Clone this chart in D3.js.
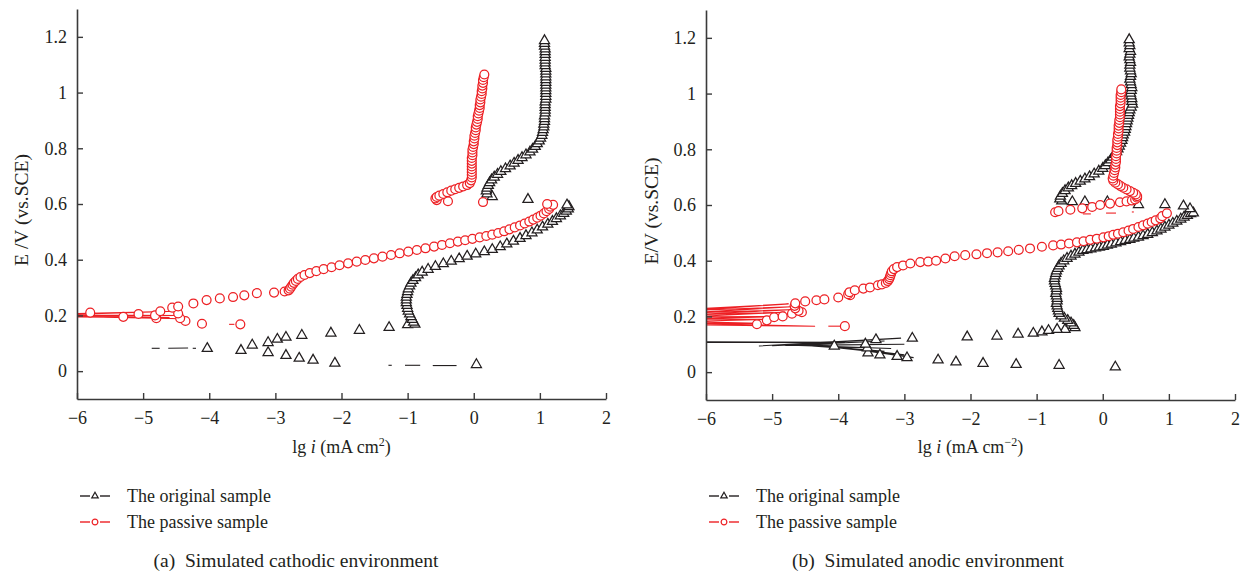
<!DOCTYPE html>
<html>
<head>
<meta charset="utf-8">
<script src="https://cdn.jsdelivr.net/npm/d3@7"></script>
<style>
  body { margin: 0; background: #fff; }
  svg text { font-family: "Liberation Serif", "Times New Roman", serif; fill: #231f20; }
</style>
</head>
<body>
<svg id="chart" width="1250" height="576"></svg>
<script>
// ---------- data (lg i, E) ----------

var xTicks = [-6, -5, -4, -3, -2, -1, 0, 1, 2];
var xMinor = [-5.5, -4.5, -3.5, -2.5, -1.5, -0.5, 0.5, 1.5];
var yTicks = [0, 0.2, 0.4, 0.6, 0.8, 1, 1.2];
var yMinor = [-0.1, 0.1, 0.3, 0.5, 0.7, 0.9, 1.1, 1.3];

var seriesNames = ["The original sample", "The passive sample"];
var captions = ["(a)  Simulated cathodic environment", "(b)  Simulated anodic environment"];

// (a) cathodic, original sample
var cathOrigUpper = [[0.28,0.630],[0.20,0.640],[0.19,0.650],[0.20,0.660],[0.22,0.670],[0.24,0.680],[0.27,0.690],[0.31,0.700],[0.36,0.710],[0.41,0.720],[0.48,0.730],[0.55,0.740],[0.61,0.750],[0.67,0.760],[0.73,0.770],[0.79,0.780],[0.85,0.790],[0.89,0.800],[0.93,0.810],[0.96,0.820],[0.99,0.830],[1.01,0.840],[1.03,0.850],[1.04,0.860],[1.05,0.870],[1.06,0.880],[1.06,0.890],[1.07,0.900],[1.07,0.910],[1.07,0.920],[1.08,0.930],[1.08,0.940],[1.08,0.950],[1.08,0.960],[1.08,0.970],[1.09,0.980],[1.09,0.990],[1.09,1.000],[1.09,1.010],[1.09,1.020],[1.09,1.030],[1.09,1.040],[1.09,1.050],[1.09,1.060],[1.09,1.070],[1.09,1.080],[1.09,1.090],[1.08,1.100],[1.08,1.110],[1.08,1.120],[1.08,1.130],[1.08,1.140],[1.08,1.150],[1.08,1.160],[1.07,1.170],[1.07,1.180],[1.07,1.190]];
var cathOrigLower = [[1.41,0.600],[1.44,0.594],[1.43,0.586],[1.40,0.578],[1.36,0.570],[1.31,0.561],[1.25,0.551],[1.19,0.541],[1.12,0.531],[1.04,0.521],[0.96,0.510],[0.88,0.500],[0.79,0.490],[0.70,0.480],[0.60,0.470],[0.50,0.460],[0.40,0.450],[0.28,0.440],[0.16,0.432],[0.03,0.424],[-0.10,0.416],[-0.22,0.407],[-0.34,0.398],[-0.46,0.389],[-0.58,0.379],[-0.69,0.369],[-0.78,0.359],[-0.84,0.349],[-0.88,0.339],[-0.92,0.329],[-0.95,0.319],[-0.97,0.309],[-0.99,0.299],[-1.00,0.289],[-1.01,0.279],[-1.02,0.269],[-1.02,0.259],[-1.02,0.249],[-1.01,0.239],[-1.00,0.229],[-0.99,0.219],[-0.97,0.209],[-0.95,0.199],[-0.93,0.189],[-0.91,0.179],[-0.89,0.172]];
var cathOrigScatter = [[0.82,0.620],[-1.00,0.170],[-1.28,0.160],[-1.73,0.150],[-2.16,0.140],[-2.60,0.132],[-2.84,0.125],[-2.97,0.118],[-3.11,0.106],[-3.35,0.097],[-3.52,0.078],[-4.03,0.085],[-3.11,0.070],[-2.84,0.060],[-2.64,0.050],[-2.43,0.043],[-2.10,0.032],[0.04,0.027]];
var cathOrigTraces = [
  [[-4.87,0.082],[-4.75,0.082]], [[-4.62,0.082],[-4.32,0.083]], [[-4.25,0.082],[-4.20,0.082]],
  [[-1.29,0.021],[-1.24,0.021]], [[-1.04,0.021],[-0.81,0.021]], [[-0.62,0.020],[-0.26,0.020]]
];

// (a) cathodic, passive sample
var cathPassUpper = [[0.16,1.065],[0.15,1.055],[0.14,1.045],[0.14,1.035],[0.13,1.025],[0.13,1.015],[0.12,1.005],[0.12,0.995],[0.11,0.985],[0.10,0.975],[0.10,0.965],[0.09,0.955],[0.09,0.945],[0.08,0.935],[0.07,0.925],[0.06,0.915],[0.06,0.905],[0.05,0.895],[0.04,0.885],[0.03,0.875],[0.03,0.865],[0.02,0.855],[0.01,0.845],[0.01,0.835],[0.00,0.825],[0.00,0.815],[-0.01,0.805],[-0.02,0.795],[-0.02,0.785],[-0.02,0.775],[-0.03,0.765],[-0.03,0.755],[-0.03,0.745],[-0.03,0.735],[-0.03,0.725],[-0.03,0.715],[-0.03,0.705],[-0.03,0.695],[-0.04,0.685],[-0.06,0.675],[-0.10,0.668],[-0.16,0.663],[-0.22,0.658],[-0.28,0.653],[-0.34,0.648],[-0.40,0.642],[-0.46,0.636],[-0.52,0.630],[-0.56,0.625],[-0.58,0.620],[-0.56,0.614],[-0.39,0.610],[0.14,0.607]];
var cathPassLower = [[1.20,0.597],[1.11,0.600],[1.16,0.590],[1.14,0.582],[1.10,0.574],[1.06,0.566],[1.01,0.558],[0.96,0.551],[0.90,0.544],[0.84,0.537],[0.77,0.530],[0.70,0.523],[0.62,0.516],[0.54,0.509],[0.46,0.502],[0.37,0.496],[0.28,0.490],[0.19,0.485],[0.09,0.480],[-0.02,0.475],[-0.13,0.470],[-0.24,0.465],[-0.36,0.459],[-0.48,0.453],[-0.60,0.447],[-0.73,0.441],[-0.86,0.435],[-0.99,0.429],[-1.12,0.423],[-1.25,0.417],[-1.38,0.411],[-1.51,0.405],[-1.64,0.399],[-1.77,0.393],[-1.90,0.387],[-2.03,0.380],[-2.15,0.373],[-2.27,0.366],[-2.38,0.359],[-2.48,0.352],[-2.56,0.345],[-2.62,0.338],[-2.66,0.331],[-2.69,0.324],[-2.72,0.317],[-2.74,0.310],[-2.76,0.303],[-2.78,0.296],[-2.80,0.290],[-2.86,0.286],[-3.02,0.282],[-3.28,0.280],[-3.47,0.272],[-3.64,0.266],[-3.84,0.261],[-4.04,0.255],[-4.24,0.243],[-4.47,0.232],[-4.56,0.228],[-4.74,0.215]];
var cathPassScatter = [[-4.47,0.207],[-4.44,0.190],[-4.36,0.180],[-4.11,0.170],[-3.53,0.168],[-4.82,0.200],[-4.80,0.190],[-5.07,0.205],[-5.30,0.195],[-5.80,0.210]];
var cathPassTraces = [
  [[-6.3,0.205],[-4.50,0.215],[-6.3,0.202],[-4.40,0.200],[-6.3,0.199],[-4.42,0.188],[-6.3,0.197],[-4.70,0.200],[-6.3,0.195],[-4.60,0.192],[-6.3,0.200]],
  [[-3.70,0.168],[-3.62,0.168]]
];

// (b) anodic, original sample
var anodOrigUpper = [[-0.62,0.618],[-0.65,0.625],[-0.64,0.635],[-0.61,0.645],[-0.57,0.655],[-0.52,0.665],[-0.47,0.673],[-0.41,0.681],[-0.34,0.689],[-0.27,0.697],[-0.20,0.705],[-0.13,0.715],[-0.06,0.725],[0.00,0.735],[0.04,0.745],[0.08,0.755],[0.12,0.765],[0.15,0.775],[0.18,0.785],[0.21,0.795],[0.23,0.805],[0.25,0.815],[0.27,0.825],[0.29,0.835],[0.30,0.845],[0.31,0.855],[0.33,0.865],[0.34,0.875],[0.35,0.885],[0.36,0.895],[0.37,0.905],[0.38,0.915],[0.39,0.925],[0.40,0.935],[0.41,0.945],[0.43,0.955],[0.45,0.965],[0.44,0.975],[0.44,0.985],[0.43,0.995],[0.42,1.005],[0.43,1.015],[0.44,1.025],[0.43,1.035],[0.42,1.045],[0.41,1.055],[0.42,1.065],[0.43,1.075],[0.42,1.085],[0.41,1.095],[0.41,1.105],[0.42,1.115],[0.41,1.125],[0.40,1.135],[0.41,1.145],[0.42,1.155],[0.40,1.165],[0.41,1.175],[0.40,1.185],[0.40,1.197]];
var anodOrigLower = [[1.37,0.575],[1.33,0.572],[1.28,0.566],[1.23,0.560],[1.18,0.553],[1.12,0.545],[1.06,0.538],[1.00,0.531],[0.94,0.524],[0.88,0.517],[0.82,0.510],[0.75,0.504],[0.68,0.498],[0.61,0.493],[0.54,0.488],[0.47,0.484],[0.41,0.480],[0.34,0.476],[0.27,0.472],[0.20,0.467],[0.13,0.463],[0.07,0.459],[0.01,0.455],[-0.05,0.452],[-0.11,0.449],[-0.18,0.446],[-0.24,0.443],[-0.30,0.440],[-0.36,0.434],[-0.42,0.427],[-0.48,0.420],[-0.54,0.412],[-0.59,0.403],[-0.63,0.394],[-0.66,0.385],[-0.68,0.376],[-0.70,0.367],[-0.71,0.358],[-0.72,0.349],[-0.73,0.340],[-0.73,0.331],[-0.72,0.322],[-0.71,0.313],[-0.70,0.304],[-0.70,0.295],[-0.71,0.286],[-0.70,0.277],[-0.69,0.268],[-0.69,0.259],[-0.70,0.250],[-0.69,0.241],[-0.68,0.232],[-0.67,0.223],[-0.66,0.214],[-0.63,0.205],[-0.58,0.197],[-0.53,0.189],[-0.48,0.180],[-0.44,0.171],[-0.42,0.163]];
var anodOrigScatter = [[-0.46,0.615],[-0.27,0.615],[0.07,0.615],[0.54,0.605],[0.94,0.605],[1.22,0.600],[1.32,0.590],[-0.57,0.157],[-0.69,0.157],[-0.82,0.153],[-0.92,0.148],[-1.05,0.143],[-1.28,0.140],[-1.60,0.133],[-2.05,0.130],[-2.88,0.125],[-3.43,0.120],[-3.59,0.104],[-3.56,0.090],[-3.55,0.072],[-3.37,0.065],[-3.11,0.060],[-2.96,0.055],[-2.49,0.047],[-2.22,0.040],[-1.81,0.035],[-1.31,0.031],[-0.66,0.028],[0.19,0.022],[-4.06,0.097]];
var anodOrigTraces = [
  [[-6.3,0.108],[-4.10,0.106],[-6.3,0.107],[-3.90,0.107],[-6.3,0.109]],
  [[-5.20,0.094],[-3.05,0.122],[-5.00,0.095],[-3.30,0.112],[-4.80,0.096],[-3.00,0.100],[-4.60,0.096],[-3.20,0.085],[-4.40,0.094],[-3.30,0.075],[-4.20,0.092],[-3.00,0.062],[-4.00,0.090],[-2.86,0.052]]
];

// (b) anodic, passive sample
var anodPassUpper = [[0.44,0.616],[0.49,0.620],[0.52,0.626],[0.52,0.632],[0.50,0.638],[0.46,0.644],[0.41,0.650],[0.36,0.656],[0.31,0.662],[0.27,0.668],[0.23,0.674],[0.19,0.680],[0.16,0.687],[0.15,0.695],[0.16,0.705],[0.17,0.715],[0.18,0.725],[0.19,0.735],[0.19,0.745],[0.20,0.755],[0.20,0.765],[0.20,0.775],[0.21,0.785],[0.21,0.795],[0.21,0.805],[0.22,0.815],[0.22,0.825],[0.22,0.835],[0.23,0.845],[0.23,0.855],[0.24,0.865],[0.24,0.875],[0.24,0.885],[0.25,0.895],[0.25,0.905],[0.26,0.915],[0.26,0.925],[0.26,0.935],[0.26,0.945],[0.26,0.955],[0.27,0.965],[0.27,0.975],[0.27,0.985],[0.27,0.995],[0.28,1.005],[0.28,1.015]];
var anodPassLower = [[0.97,0.570],[0.90,0.560],[0.87,0.552],[0.80,0.545],[0.74,0.539],[0.68,0.533],[0.61,0.527],[0.54,0.521],[0.46,0.514],[0.39,0.508],[0.31,0.502],[0.23,0.497],[0.16,0.493],[0.09,0.488],[0.01,0.484],[-0.09,0.479],[-0.19,0.475],[-0.29,0.470],[-0.39,0.466],[-0.51,0.462],[-0.63,0.458],[-0.75,0.455],[-0.92,0.450],[-1.10,0.444],[-1.27,0.439],[-1.43,0.434],[-1.59,0.430],[-1.75,0.427],[-1.91,0.423],[-2.08,0.420],[-2.24,0.416],[-2.38,0.408],[-2.52,0.400],[-2.64,0.397],[-2.76,0.395],[-2.91,0.390],[-3.02,0.383],[-3.11,0.377],[-3.16,0.370],[-3.19,0.362],[-3.20,0.355],[-3.21,0.348],[-3.22,0.341],[-3.23,0.334],[-3.25,0.327],[-3.28,0.320],[-3.34,0.315],[-3.40,0.312],[-3.52,0.304],[-3.62,0.300],[-3.75,0.294],[-3.83,0.287],[-3.85,0.280],[-3.82,0.276],[-4.00,0.268],[-4.21,0.261],[-4.33,0.258],[-4.50,0.254],[-4.65,0.247],[-4.66,0.238],[-4.65,0.229],[-4.60,0.220],[-4.55,0.215],[-4.70,0.210],[-4.84,0.200],[-4.97,0.197],[-5.08,0.186],[-5.23,0.172]];
var anodPassScatter = [[0.36,0.613],[0.26,0.610],[0.11,0.605],[-0.04,0.600],[-0.16,0.593],[-0.31,0.588],[-0.49,0.583],[-0.67,0.578],[-0.72,0.574],[-3.90,0.165]];
var anodPassTraces = [
  [[-6.3,0.225],[-4.75,0.245],[-6.3,0.220],[-4.70,0.235],[-6.3,0.212],[-4.65,0.225],[-6.3,0.205],[-4.80,0.215],[-6.3,0.198],[-4.90,0.200],[-6.3,0.190],[-5.00,0.190],[-6.3,0.182],[-5.20,0.175],[-6.3,0.175],[-4.35,0.165],[-6.3,0.170]],
  [[-4.15,0.165],[-3.97,0.165]],
  [[-0.30,0.568],[-0.18,0.568]], [[0.05,0.571],[0.20,0.571]], [[0.44,0.575],[0.47,0.575]]
];

// ---------- drawing ----------

var svg = d3.select("#chart");
var red = "#ed2024";
var ink = "#231f20";

var panels = [
  { left: 77, right: 606, top: 9, bottom: 399, id: "a",
    yLabel: "E /V (vs.SCE)", yLabelX: 21, sup: "2", legendX: 95, captionX: 296,
    series: [
      { color: ink, shape: "tri", pts: [cathOrigUpper, cathOrigLower, cathOrigScatter], traces: cathOrigTraces },
      { color: red, shape: "circ", pts: [cathPassUpper, cathPassLower, cathPassScatter], traces: cathPassTraces }
    ] },
  { left: 706, right: 1235, top: 10, bottom: 400, id: "b",
    yLabel: "E/V (vs.SCE)", yLabelX: 651, sup: "\u22122", legendX: 724, captionX: 928,
    series: [
      { color: ink, shape: "tri", pts: [anodOrigUpper, anodOrigLower, anodOrigScatter], traces: anodOrigTraces },
      { color: red, shape: "circ", pts: [anodPassUpper, anodPassLower, anodPassScatter], traces: anodPassTraces }
    ] }
];

var triSym = d3.symbol().type(d3.symbolTriangle).size(44);
var circSym = d3.symbol().type(d3.symbolCircle).size(62);
var triSmall = d3.symbol().type(d3.symbolTriangle).size(18);
var circSmall = d3.symbol().type(d3.symbolCircle).size(26);

var fmtY = d => String(+d.toFixed(1));

panels.forEach(function (p) {
  var x = d3.scaleLinear().domain([-6, 2]).range([p.left, p.right]);
  var y = d3.scaleLinear().domain([-0.1, 1.3]).range([p.bottom, p.top]);

  svg.append("clipPath").attr("id", "clip-" + p.id)
    .append("rect")
    .attr("x", p.left).attr("y", p.top)
    .attr("width", p.right - p.left).attr("height", p.bottom - p.top);

  var plot = svg.append("g").attr("clip-path", "url(#clip-" + p.id + ")");
  var line = d3.line().x(d => x(d[0])).y(d => y(d[1]));

  p.series.forEach(function (s) {
    var g = plot.append("g");
    g.selectAll("path.trace")
      .data(s.traces)
      .enter()
      .append("path")
      .attr("class", "trace")
      .attr("d", line)
      .attr("fill", "none")
      .attr("stroke", s.color)
      .attr("stroke-width", 1.1);

    var pts = [].concat.apply([], s.pts).slice().sort((a, b) => a[1] - b[1]);
    g.selectAll("path.mark")
      .data(pts)
      .enter()
      .append("path")
      .attr("class", "mark")
      .attr("d", s.shape === "tri" ? triSym : circSym)
      .attr("transform", d => `translate(${x(d[0])},${y(d[1]) + (s.shape === "tri" ? 1 : 0)})`)
      .attr("fill", "#fff")
      .attr("stroke", s.color)
      .attr("stroke-width", 1.25);
  });

  // axes
  var gx = svg.append("g").attr("transform", `translate(0,${p.bottom})`);
  gx.call(d3.axisBottom(x).tickValues(xMinor).tickSize(-3.5).tickSizeOuter(0).tickFormat(""));
  gx.call(d3.axisBottom(x).tickValues(xTicks).tickSize(-6).tickSizeOuter(0).tickPadding(12));

  var gy = svg.append("g").attr("transform", `translate(${p.left},0)`);
  gy.call(d3.axisLeft(y).tickValues(yMinor).tickSize(-3.5).tickSizeOuter(0).tickFormat(""));
  gy.call(d3.axisLeft(y).tickValues(yTicks).tickSize(-6).tickSizeOuter(0).tickPadding(10).tickFormat(fmtY));

  [gx, gy].forEach(function (g) {
    g.selectAll("path.domain").attr("stroke", "#3a3a3a").attr("stroke-width", 1.6);
    g.selectAll("line").attr("stroke", "#3a3a3a").attr("stroke-width", 1.4);
    g.selectAll("text")
      .attr("font-family", "Liberation Serif, serif")
      .attr("font-size", 18)
      .attr("fill", ink);
  });

  // axis titles
  svg.append("text")
    .attr("transform", `translate(${p.yLabelX},${(p.top + p.bottom) / 2 + 6}) rotate(-90)`)
    .attr("text-anchor", "middle")
    .attr("dy", "0.35em")
    .attr("font-size", 19.5)
    .text(p.yLabel);

  var xl = svg.append("text")
    .attr("x", (p.left + p.right) / 2)
    .attr("y", 453)
    .attr("text-anchor", "middle")
    .attr("font-size", 18);
  xl.append("tspan").text("lg ");
  xl.append("tspan").attr("font-style", "italic").text("i");
  xl.append("tspan").text(" (mA cm");
  xl.append("tspan").attr("font-size", 12).attr("dy", -7).text(p.sup);
  xl.append("tspan").attr("dy", 7).text(")");

  // legend
  p.series.forEach(function (s, i) {
    var ly = 496 + i * 26;
    var lg = svg.append("g").attr("transform", `translate(${p.legendX},${ly})`);
    lg.append("line").attr("x1", -15).attr("x2", -5).attr("stroke", s.color).attr("stroke-width", 1.4);
    lg.append("line").attr("x1", 5).attr("x2", 15).attr("stroke", s.color).attr("stroke-width", 1.4);
    lg.append("path").attr("d", s.shape === "tri" ? triSmall : circSmall)
      .attr("fill", "#fff").attr("stroke", s.color).attr("stroke-width", 1.2);
    svg.append("text")
      .attr("x", p.legendX + 32)
      .attr("y", ly + 6)
      .attr("font-size", 18)
      .text(seriesNames[i]);
  });

  // caption
  svg.append("text")
    .attr("x", p.captionX)
    .attr("y", 567)
    .attr("text-anchor", "middle")
    .attr("font-size", 19.5)
    .style("white-space", "pre")
    .text(captions[p.id === "a" ? 0 : 1]);
});
</script>
</body>
</html>
